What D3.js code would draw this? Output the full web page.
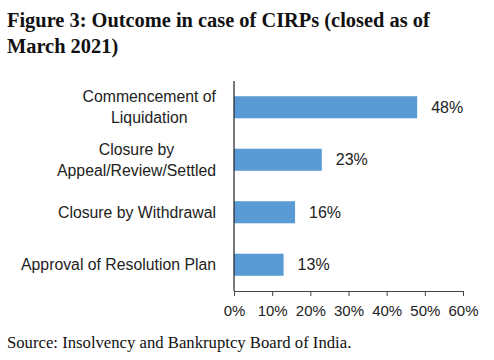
<!DOCTYPE html>
<html>
<head>
<meta charset="utf-8">
<script src="https://cdn.jsdelivr.net/npm/d3@7"></script>
<style>
body { margin: 0; background: #fff; }
</style>
</head>
<body>
<script>
var categories = [["Commencement of", "Liquidation"], ["Closure by", "Appeal/Review/Settled"], ["Closure by Withdrawal"], ["Approval of Resolution Plan"]];
var values = [0.48, 0.23, 0.16, 0.13];
var tickValues = [0, 0.1, 0.2, 0.3, 0.4, 0.5, 0.6];

var w = 494, h = 360;
var svg = d3.select("body").append("svg").attr("width", w).attr("height", h);

// title
var title = svg.append("text")
  .attr("font-family", "Liberation Serif, Times New Roman, serif")
  .attr("font-weight", "bold")
  .attr("font-size", 20.4)
  .attr("fill", "#111");
title.append("tspan").attr("x", 7).attr("y", 27).text("Figure 3: Outcome in case of CIRPs (closed as of");
title.append("tspan").attr("x", 7).attr("y", 53).text("March 2021)");

var x = d3.scaleLinear().domain([0, 0.6]).range([234, 463]);
var y = d3.scaleBand().domain(d3.range(categories.length)).range([81, 291]).paddingInner(0.58).paddingOuter(0.29);

var g = svg.append("g");

g.selectAll("rect").data(values).enter().append("rect")
  .attr("x", x(0))
  .attr("y", function(d, i) { return y(i); })
  .attr("width", function(d) { return x(d) - x(0); })
  .attr("height", y.bandwidth())
  .attr("fill", "#5B9BD5");

// value labels
g.selectAll(".val").data(values).enter().append("text")
  .attr("class", "val")
  .attr("x", function(d) { return x(d) + 14; })
  .attr("y", function(d, i) { return y(i) + y.bandwidth() / 2 + 5.5; })
  .attr("font-family", "Liberation Sans, Arial, sans-serif")
  .attr("font-size", 16)
  .attr("fill", "#222")
  .text(function(d) { return Math.round(d * 100) + "%"; });

// category labels
categories.forEach(function(lines, i) {
  var cy = y(i) + y.bandwidth() / 2;
  var t = g.append("text")
    .attr("class", "cat")
    .attr("text-anchor", "end")
    .attr("font-family", "Liberation Sans, Arial, sans-serif")
    .attr("font-size", 15.8)
    .attr("fill", "#222");
  lines.forEach(function(s, k) {
    var off = (k - (lines.length - 1) / 2) * 21;
    t.append("tspan").attr("x", 216).attr("y", cy + off + 5.5).text(s);
  });
});

// two-line labels: lines centred on each other
g.selectAll(".cat").filter(function() { return this.childNodes.length > 1; }).each(function() {
  var spans = d3.select(this).selectAll("tspan").nodes();
  var widths = spans.map(function(s) { return s.getComputedTextLength(); });
  var mw = d3.max(widths);
  spans.forEach(function(s, k) {
    d3.select(s).attr("x", 216 - (mw - widths[k]) / 2);
  });
});

// x axis
var xAxis = svg.append("g")
  .attr("transform", "translate(0,291)")
  .call(d3.axisBottom(x).tickValues(tickValues).tickFormat(d3.format(".0%")).tickSize(5).tickSizeOuter(0));
xAxis.select(".domain").attr("stroke", "#444");
xAxis.selectAll(".tick line").attr("stroke", "#444");
xAxis.selectAll("text")
  .attr("font-family", "Liberation Sans, Arial, sans-serif")
  .attr("font-size", 15)
  .attr("fill", "#222")
  .attr("dy", "1.15em");

// y axis line
svg.append("line")
  .attr("x1", x(0)).attr("x2", x(0))
  .attr("y1", 81).attr("y2", 291)
  .attr("stroke", "#222").attr("stroke-width", 1.2);

// source
svg.append("text")
  .attr("x", 7).attr("y", 348)
  .attr("font-family", "Liberation Serif, Times New Roman, serif")
  .attr("font-size", 16.7)
  .attr("fill", "#111")
  .text("Source: Insolvency and Bankruptcy Board of India.");
</script>
</body>
</html>
